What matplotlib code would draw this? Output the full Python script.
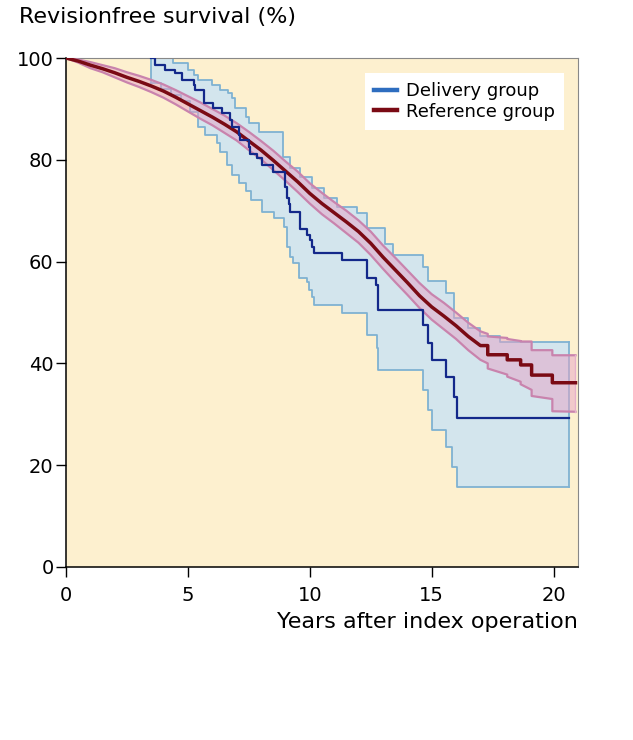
# === KAPLAN-MEIER: REVISIONFREE SURVIVAL ===

import numpy as np
import matplotlib
matplotlib.use("Agg")
import matplotlib.pyplot as plt

plt.rcParams["font.family"] = ["DejaVu Sans"]

# === DATOS ===
# Delivery group (escalones, steps-post)
t_del = [3.5, 3.65, 4.07, 4.48, 4.75, 5.23, 5.3, 5.64, 6.05, 6.39, 6.73, 6.8, 7.08, 7.15,
         7.49, 7.56, 7.83, 8.04, 8.51, 9.0, 9.06, 9.13, 9.2, 9.6, 9.88, 10.0, 10.09, 10.16,
         11.33, 12.35, 12.7, 12.8, 14.65, 14.85, 15.0, 15.57, 15.9, 16.05, 20.65]
s_del = [100, 98.6, 97.6, 97.0, 95.7, 94.7, 93.7, 91.1, 90.1, 89.1, 87.8, 86.5, 84.9, 83.9,
         82.6, 81.2, 80.3, 79.0, 77.7, 74.7, 72.4, 71.4, 69.8, 66.5, 65.2, 64.2, 62.9, 61.6,
         60.3, 56.8, 55.4, 50.5, 47.5, 44.0, 40.7, 37.3, 33.4, 29.3, 29.3]

t_del_up = [3.5, 4.4, 5.0, 5.25, 5.4, 6.0, 6.3, 6.65, 6.8, 6.94, 7.4, 7.5, 7.9, 8.9, 9.2,
            9.6, 10.1, 10.6, 11.1, 11.95, 12.35, 13.1, 13.4, 14.65, 14.85, 15.57, 15.9,
            16.5, 17.0, 17.8, 18.6, 20.65]
s_del_up = [100, 99.0, 97.6, 96.7, 95.7, 94.7, 93.7, 93.1, 92.1, 90.2, 88.4, 87.2, 85.5, 80.5,
            78.3, 76.6, 74.4, 72.5, 70.8, 69.5, 66.6, 63.5, 61.3, 59.0, 56.1, 53.8, 49.0,
            47.0, 45.3, 44.3, 44.3, 44.3]

t_del_lo = [3.5, 3.9, 4.3, 4.7, 5.1, 5.4, 5.7, 6.2, 6.3, 6.6, 6.8, 7.1, 7.4, 7.6, 8.04, 8.55,
            8.95, 9.05, 9.2, 9.3, 9.55, 9.88, 9.95, 10.09, 10.16, 11.33, 12.35, 12.75, 12.8,
            14.65, 14.85, 15.0, 15.57, 15.85, 16.05, 20.65]
s_del_lo = [95.0, 94.0, 92.8, 91.5, 89.4, 86.4, 84.9, 83.3, 81.5, 79.0, 77.0, 75.5, 73.8, 72.1,
            69.7, 68.6, 66.8, 62.9, 60.9, 59.7, 56.8, 56.0, 54.4, 53.0, 51.5, 49.9, 45.6, 43.0,
            38.8, 34.8, 30.8, 26.9, 23.6, 19.6, 15.7, 15.7]

# Reference group (curva casi continua, con escalones al final)
t_ref = [0, 0.5, 1, 1.5, 2, 2.5, 3, 3.5, 4, 4.5, 5, 5.5, 6, 6.5, 7, 7.5, 8, 8.5, 9, 9.5,
         10, 10.5, 11, 11.5, 12, 12.5, 13, 13.5, 14, 14.5, 15, 15.5, 16, 16.5, 17,
         17.3, 17.3, 18.1, 18.1, 18.65, 18.65, 19.1, 19.1, 19.95, 19.95, 20.9]
s_ref = [100, 99.4, 98.6, 97.9, 97.1, 96.2, 95.4, 94.5, 93.5, 92.3, 91.0, 89.7, 88.4, 87.0,
         85.5, 83.7, 81.9, 79.9, 77.8, 75.7, 73.4, 71.4, 69.6, 67.8, 65.9, 63.6, 60.9, 58.4,
         55.9, 53.3, 51.1, 49.3, 47.4, 45.3, 43.5,
         43.5, 41.7, 41.7, 40.7, 40.7, 39.7, 39.7, 37.7, 37.7, 36.2, 36.2]
s_ref_up = [100, 99.7, 99.2, 98.6, 98.0, 97.2, 96.5, 95.7, 94.8, 93.7, 92.5, 91.3, 90.0, 88.7,
            87.2, 85.5, 83.7, 81.8, 79.7, 77.7, 75.4, 73.5, 71.7, 70.0, 68.1, 65.9, 63.2, 60.8,
            58.3, 55.8, 53.6, 51.9, 50.0, 48.0, 46.3,
            45.8, 45.3, 45.0, 44.8, 44.4, 44.3, 44.3, 42.6, 42.6, 41.6, 41.6]
s_ref_lo = [100, 99.1, 98.0, 97.2, 96.2, 95.2, 94.3, 93.3, 92.2, 90.9, 89.5, 88.1, 86.8, 85.3,
            83.8, 81.9, 80.1, 78.0, 75.9, 73.7, 71.4, 69.3, 67.5, 65.6, 63.7, 61.3, 58.6, 56.0,
            53.5, 50.9, 48.6, 46.7, 44.8, 42.6, 40.7,
            40.0, 39.0, 37.8, 37.4, 36.4, 35.9, 34.8, 33.6, 33.0, 30.6, 30.5]

x_ticks = [0, 5, 10, 15, 20]
y_ticks = [0, 20, 40, 60, 80, 100]


def escalones(t, s):
    # convierte puntos de un escalon (post) en vertices de poligono
    xs, ys = [], []
    for i in range(len(t)):
        xs.append(t[i]); ys.append(s[i])
        if i + 1 < len(t):
            xs.append(t[i + 1]); ys.append(s[i])
    return np.array(xs), np.array(ys)


# === FIGURA ===
fig = plt.figure(figsize=(6.33, 7.40), dpi=100)
ax = fig.add_axes([0.1043, 0.2338, 0.8087, 0.6878])
ax.set_facecolor("#fdf0cf")

# Banda delivery
xu, yu = escalones(t_del_up, s_del_up)
xl, yl = escalones(t_del_lo, s_del_lo)
ax.fill(np.concatenate([xu, xl[::-1]]), np.concatenate([yu, yl[::-1]]),
        color="#d3e5ed", lw=0, zorder=1)
ax.plot(xu, yu, color="#7fb2d2", lw=1.3, zorder=2)
ax.plot(xl, yl, color="#7fb2d2", lw=1.3, zorder=2)
ax.plot([xu[0], xl[0]], [yu[0], yl[0]], color="#7fb2d2", lw=1.3, zorder=2)
ax.plot([xu[-1], xl[-1]], [yu[-1], yl[-1]], color="#7fb2d2", lw=1.3, zorder=2)

# Banda reference
ax.fill(np.concatenate([t_ref, t_ref[::-1]]), np.concatenate([s_ref_up, s_ref_lo[::-1]]),
        color="#e6a3c6", alpha=0.5, lw=0, zorder=3)
ax.plot(t_ref, s_ref_up, color="#c983ad", lw=1.6, zorder=4)
ax.plot(t_ref, s_ref_lo, color="#c983ad", lw=1.6, zorder=4)
ax.plot([t_ref[-1], t_ref[-1]], [s_ref_lo[-1], s_ref_up[-1]], color="#e6b0cc", lw=1, zorder=4)

# Curvas principales
ax.plot(t_ref, s_ref, color="#7a0a14", lw=2.5, zorder=5)
xd, yd = escalones(t_del, s_del)
ax.plot(xd, yd, color="#13288a", lw=1.6, zorder=6)

# Leyenda (colores de la leyenda original)
ax.plot([], [], color="#2e6dbf", lw=3.2, label="Delivery group")
ax.plot([], [], color="#7a0a14", lw=3.2, label="Reference group")
leg = ax.legend(loc="upper right", bbox_to_anchor=(0.972, 0.9705), fontsize=13,
                frameon=True, fancybox=False, framealpha=1, edgecolor="white",
                handlelength=1.3, handletextpad=0.45, borderpad=0.5, labelspacing=0.15,
                borderaxespad=0)
leg.get_frame().set_linewidth(0)

# Ejes
ax.set_xlim(0, 21)
ax.set_ylim(0, 100)
ax.set_xticks(x_ticks)
ax.set_yticks(y_ticks)
ax.tick_params(direction="out", length=7, width=1, labelsize=14, colors="black")
ax.tick_params(axis="x", pad=7)
ax.tick_params(axis="y", pad=2)
for lado in ["left", "bottom"]:
    ax.spines[lado].set_color("black")
    ax.spines[lado].set_linewidth(1.1)
for lado in ["top", "right"]:
    ax.spines[lado].set_color("#888888")
    ax.spines[lado].set_linewidth(0.8)

ax.set_xlabel("Years after index operation", loc="right", fontsize=16, labelpad=5)
fig.text(19 / 633, 1 - 17 / 740, "Revisionfree survival (%)", fontsize=16,
         ha="left", va="center")

plt.savefig("out.png", dpi=100)
